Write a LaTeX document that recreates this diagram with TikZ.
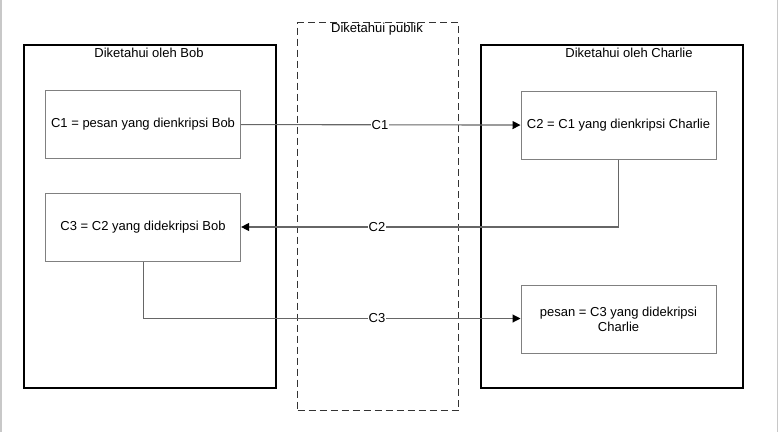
\documentclass[tikz,border=0pt]{standalone}
\usepackage{fontspec}
\setmainfont{Liberation Sans}
\usetikzlibrary{arrows.meta}
\definecolor{linegray}{HTML}{666666}
\definecolor{boxgray}{HTML}{808080}
\definecolor{pagegray}{HTML}{C8C8C8}
\begin{document}
\begin{tikzpicture}[x=1pt,y=-1pt,
  every node/.style={font=\fontsize{13}{15.5}\selectfont, text=black},
  outerbox/.style={draw=black, line width=2.2pt},
  pubbox/.style={draw=black!80, line width=1.3pt, dash pattern=on 7pt off 4pt},
  innerbox/.style={draw=boxgray, line width=1.1pt, fill=white, align=center},
  conn/.style={draw=linegray, line width=1.1pt, -{Triangle[length=8pt,width=8pt,color=black]}},
  lbl/.style={fill=white, inner sep=1pt},
  ttl/.style={inner sep=0pt}]
\useasboundingbox (0,0) rectangle (782,432);
\draw[pagegray, line width=1.5pt] (1,0) -- (1,432);
\draw[pagegray, line width=1.5pt] (777.5,0) -- (777.5,432);
% outer boxes
\node[outerbox, minimum width=252pt, minimum height=343pt, anchor=north west] (bob) at (23,44) {};
\node[pubbox, minimum width=161pt, minimum height=388pt, anchor=north west] (pub) at (297,22) {};
\node[outerbox, minimum width=262pt, minimum height=343pt, anchor=north west] (charlie) at (480,44) {};
\node[ttl] (tbob) at (149,53) {Diketahui oleh Bob};
\node[ttl] (tpub) at (377,29) {Diketahui publik};
\node[ttl] (tcharlie) at (629,53) {Diketahui oleh Charlie};
% inner boxes
\node[innerbox, minimum width=195pt, minimum height=68pt, anchor=north west] (c1) at (45,90) {};
\node at (c1.center) (c1t) {C1 = pesan yang dienkripsi Bob};
\node[innerbox, minimum width=195pt, minimum height=68pt, anchor=north west] (c3) at (45,193) {};
\node at (c3.center) (c3t) {C3 = C2 yang didekripsi Bob};
\node[innerbox, minimum width=195pt, minimum height=68pt, anchor=north west] (c2) at (520.5,90.5) {};
\node at (c2.center) (c2t) {C2 = C1 yang dienkripsi Charlie};
\node[innerbox, minimum width=195pt, minimum height=68pt, anchor=north west] (ps) at (520.5,285) {};
\node[align=center] at (ps.center) (pst) {pesan = C3 yang didekripsi\\Charlie};
% connectors
\coordinate (k2) at (618.5,227);
\coordinate (k3) at (143.5,318.5);
\draw[conn] (c1.east) -- (c2.west);
\draw[conn] (c2.south -| k2) -- (k2) -- (k2 -| c3.east);
\draw[conn] (c3.south -| k3) -- (k3) -- (k3 -| ps.west);
\node[lbl] (l1) at (380,125) {C1};
\node[lbl] (l2) at (377,227) {C2};
\node[lbl] (l3) at (377,318.5) {C3};
\end{tikzpicture}
\end{document}
